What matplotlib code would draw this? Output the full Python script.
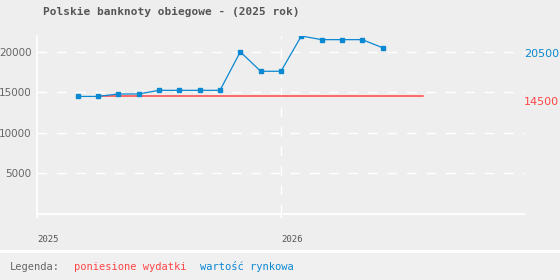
import matplotlib.pyplot as plt
from matplotlib.patches import Rectangle

# month index: 0 = styczen 2025
months = list(range(2, 18))
market_value = [14500, 14500, 14800, 14800, 15250, 15250, 15250, 15250,
                20000, 17600, 17600, 21950, 21500, 21500, 21500, 20500]
cost_months = [3, 19]
cost_value = [14500, 14500]

year_ticks = [0, 12]
year_labels = ['2025', '2026']
y_ticks = [5000, 10000, 15000, 20000]

blue = '#0a88d2'
red = '#ff4545'
grey = '#666666'
bg = '#eeeeee'
mono = 'DejaVu Sans Mono'

fig = plt.figure(figsize=(5.6, 2.8), dpi=100, facecolor=bg)
# legend strip at the bottom
fig.patches.append(Rectangle((0, 0), 1, 1 - 250 / 280, transform=fig.transFigure,
                             facecolor='#f0f0f0', edgecolor='none', zorder=0))
fig.patches.append(Rectangle((0, 1 - 253 / 280), 1, 3 / 280, transform=fig.transFigure,
                             facecolor='white', edgecolor='none', zorder=0))

ax = fig.add_axes([37 / 560, 1 - 214 / 280, 488 / 560, 178 / 280])
ax.set_facecolor(bg)
ax.set_xlim(0, 24)
ax.set_ylim(0, 21950)

for v in y_ticks:
    ax.axhline(v, color='white', lw=1.0, ls=(0, (7, 7)), zorder=1, clip_on=False)
ax.axvline(12, color='white', lw=1.0, ls=(0, (7, 7)), zorder=1)

for s in ['top', 'right']:
    ax.spines[s].set_visible(False)
for s in ['left', 'bottom']:
    ax.spines[s].set_color('white')
    ax.spines[s].set_linewidth(1.2)

ax.plot(cost_months, cost_value, color=red, lw=1.1, zorder=2)
ax.plot(months, market_value, color=blue, lw=0.9, marker='s', ms=2.4, zorder=3)

ax.set_yticks(y_ticks)
ax.set_yticklabels([str(v) for v in y_ticks], family='DejaVu Sans', fontsize=7.5, color=grey)
ax.set_xticks(year_ticks)
ax.set_xticklabels(year_labels, family=mono, fontsize=6.5, color='#555555', ha='left')
ax.tick_params(axis='y', length=0, pad=4)
ax.tick_params(axis='x', length=3, color='white', width=1.2, pad=12)

# last-value labels on the right, in figure coords
fig.text(524 / 560, 1 - 53.7 / 280, '20500', fontsize=8, color=blue,
         family='DejaVu Sans', va='center', ha='left')
fig.text(524 / 560, 1 - 102.3 / 280, '14500', fontsize=8, color=red,
         family='DejaVu Sans', va='center', ha='left')

fig.text(43 / 560, 1 - 12 / 280, 'Polskie banknoty obiegowe - (2025 rok)', family=mono,
         fontweight='bold', fontsize=8, color='#555555', va='center', ha='left')

fig.text(10 / 560, 1 - 267 / 280, 'Legenda:', family=mono, fontsize=7.5, color=grey, va='center')
fig.text(74 / 560, 1 - 267 / 280, 'poniesione wydatki', family=mono, fontsize=7.5, color=red, va='center')
fig.text(200 / 560, 1 - 267 / 280, 'wartość rynkowa', family=mono, fontsize=7.5, color=blue, va='center')

fig.savefig('out.png', dpi=100, facecolor=bg)
